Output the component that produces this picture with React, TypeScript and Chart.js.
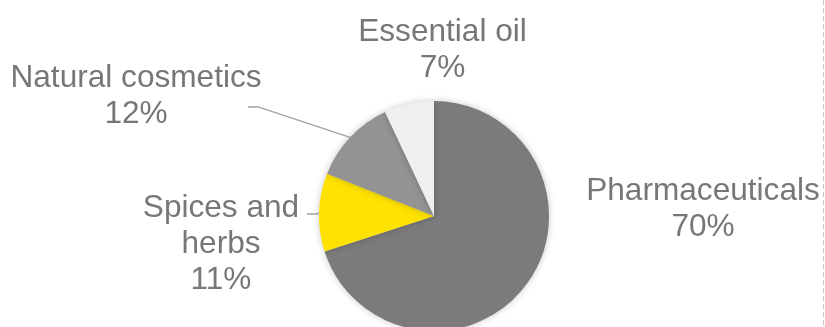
import React, { useEffect, useRef } from "react";
import { Chart, registerables } from "chart.js";

Chart.register(...registerables);

const categories = ["Pharmaceuticals", "Spices and herbs", "Natural cosmetics", "Essential oil"];
const values = [70, 11, 12, 7];
const colors = ["#7b7b7b", "#ffe200", "#939393", "#efefef"];

const FONT = '31.6px "Liberation Sans", Arial, sans-serif';
const TEXT_COLOR = "#777777";
const LINE_H = 36;

// label layout: centre x, first baseline y, wrap width, leader elbow (or null)
const labelLayout = [
  { x: 703, y: 200, wrap: 400, leader: null as null | { ex: number; ey: number; hx: number } },
  { x: 221, y: 217, wrap: 170, leader: { ex: 317, ey: 214, hx: 307 } },
  { x: 136, y: 87, wrap: 400, leader: { ex: 258, ey: 107, hx: 248 } },
  { x: 442.5, y: 41, wrap: 400, leader: null },
];

function wrapText(ctx: CanvasRenderingContext2D, text: string, maxW: number): string[] {
  const words = text.split(" ");
  const lines: string[] = [];
  let cur = "";
  for (const w of words) {
    const t = cur ? cur + " " + w : w;
    if (ctx.measureText(t).width > maxW && cur) {
      lines.push(cur);
      cur = w;
    } else cur = t;
  }
  if (cur) lines.push(cur);
  return lines;
}

const shadowPlugin = {
  id: "pieShadow",
  beforeDatasetDraw(chart: any) {
    const ctx = chart.ctx;
    ctx.save();
    ctx.shadowColor = "rgba(0,0,0,0.22)";
    ctx.shadowBlur = 7;
    ctx.shadowOffsetX = 0;
    ctx.shadowOffsetY = 0;
  },
  afterDatasetDraw(chart: any) {
    chart.ctx.restore();
  },
};

const labelPlugin = {
  id: "pieLabels",
  afterDraw(chart: any) {
    const ctx: CanvasRenderingContext2D = chart.ctx;
    const meta = chart.getDatasetMeta(0);
    ctx.save();
    // dashed border line at right
    ctx.strokeStyle = "#c4c4c4";
    ctx.lineWidth = 1;
    ctx.setLineDash([5, 3]);
    ctx.beginPath();
    ctx.moveTo(823.5, 0);
    ctx.lineTo(823.5, chart.height);
    ctx.stroke();
    ctx.setLineDash([]);

    ctx.font = FONT;
    ctx.fillStyle = TEXT_COLOR;
    ctx.textAlign = "center";
    ctx.textBaseline = "alphabetic";
    meta.data.forEach((arc: any, i: number) => {
      const lay = labelLayout[i];
      const lines = wrapText(ctx, categories[i], lay.wrap);
      lines.push(values[i] + "%");
      lines.forEach((ln, k) => ctx.fillText(ln, lay.x, lay.y + k * LINE_H));
      if (lay.leader) {
        const mid = (arc.startAngle + arc.endAngle) / 2;
        const px = arc.x + Math.cos(mid) * arc.outerRadius;
        const py = arc.y + Math.sin(mid) * arc.outerRadius;
        ctx.strokeStyle = "#a0a0a0";
        ctx.lineWidth = 1.3;
        ctx.beginPath();
        ctx.moveTo(px, py);
        ctx.lineTo(lay.leader.ex, lay.leader.ey);
        ctx.lineTo(lay.leader.hx, lay.leader.ey);
        ctx.stroke();
      }
    });
    ctx.restore();
  },
};

export default function App() {
  const ref = useRef<HTMLCanvasElement | null>(null);
  useEffect(() => {
    document.body.style.margin = "0";
    const chart = new Chart(ref.current as HTMLCanvasElement, {
      type: "pie",
      data: {
        labels: categories,
        datasets: [
          {
            data: values,
            backgroundColor: colors,
            borderWidth: 0,
            hoverOffset: 0,
          },
        ],
      },
      options: {
        animation: false,
        responsive: false,
        radius: 115,
        layout: { padding: { top: 105, bottom: 0, left: 100, right: 57 } },
        plugins: { legend: { display: false }, tooltip: { enabled: false } },
      } as any,
      plugins: [shadowPlugin, labelPlugin],
    });
    return () => chart.destroy();
  }, []);
  return (
    <div style={{ width: 825, height: 327, background: "#ffffff" }}>
      <canvas ref={ref} width={825} height={327} style={{ display: "block" }} />
    </div>
  );
}
